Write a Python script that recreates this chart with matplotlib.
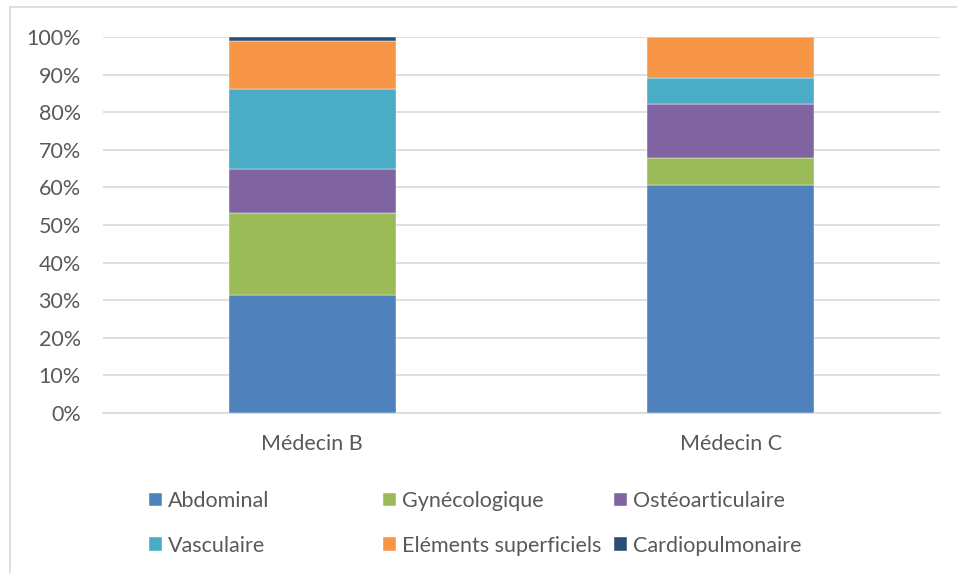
import matplotlib.pyplot as plt
from matplotlib.lines import Line2D
from matplotlib.ticker import PercentFormatter

# Data (percent of each doctor's exams)
doctors = ['Médecin B', 'Médecin C']
categories = ['Abdominal', 'Gynécologique', 'Ostéoarticulaire',
              'Vasculaire', 'Eléments superficiels', 'Cardiopulmonaire']
abdominal = [31.5, 60.6]
gynecologique = [21.6, 7.2]
osteoarticulaire = [11.7, 14.3]
vasculaire = [21.3, 7.1]
elements = [12.8, 10.8]
cardiopulmonaire = [1.1, 0.0]
series = [abdominal, gynecologique, osteoarticulaire,
          vasculaire, elements, cardiopulmonaire]
colors = ['#4f81bd', '#9bbb59', '#8064a2', '#4bacc6', '#f79646', '#2c4d75']

plt.rcParams['font.family'] = ['Lato', 'DejaVu Sans']
text_color = '#595959'
fs = 15.5

fig = plt.figure(figsize=(9.57, 5.73), dpi=100)
W, H = 957, 573
ax = fig.add_axes([103 / W, 1 - 413 / H, (940 - 103) / W, (413 - 37) / H])

# Stacked bars
x = list(range(len(doctors)))
bottoms = [0.0] * len(doctors)
bars = []
for vals, name, col in zip(series, categories, colors):
    b = ax.bar(x, vals, width=0.4, bottom=bottoms, color=col, label=name,
               edgecolor='white', linewidth=0.3, zorder=3)
    bars.append(b)
    bottoms = [bo + v for bo, v in zip(bottoms, vals)]

ax.set_xlim(-0.5, 1.5)
ax.set_ylim(0, 100)
ax.set_yticks(range(0, 101, 10))
ax.yaxis.set_major_formatter(PercentFormatter(decimals=0))
ax.set_xticks(x)
ax.set_xticklabels(doctors)
ax.grid(axis='y', color='#d9d9d9', linewidth=1.2, zorder=0)
ax.set_axisbelow(True)
for s in ['top', 'right', 'left']:
    ax.spines[s].set_visible(False)
ax.spines['bottom'].set_color('#d9d9d9')
ax.spines['bottom'].set_linewidth(1.2)
ax.tick_params(axis='both', length=0, labelsize=fs, colors=text_color)
ax.tick_params(axis='y', pad=16)
ax.tick_params(axis='x', pad=15)

# Legend: three columns placed like the original
col_x = [149, 383, 614]
pairs = [(0, 3), (1, 4), (2, 5)]
for cx, (i, j) in zip(col_x, pairs):
    leg = fig.legend([bars[i], bars[j]], [categories[i], categories[j]],
                     loc='upper left', bbox_to_anchor=(cx / W, 1 - 491 / H),
                     frameon=False, fontsize=fs, handlelength=0.6,
                     handleheight=0.6, handletextpad=0.28, labelspacing=1.14,
                     borderpad=0, borderaxespad=0)
    for t in leg.get_texts():
        t.set_color(text_color)

# Outer chart frame
fig.add_artist(Line2D([10 / W, 1], [1 - 7 / H, 1 - 7 / H], color='#d9d9d9',
                      linewidth=1.2, transform=fig.transFigure))
fig.add_artist(Line2D([10 / W, 10 / W], [0, 1 - 7 / H], color='#d9d9d9',
                      linewidth=1.2, transform=fig.transFigure))

fig.savefig('out.png', dpi=100)
